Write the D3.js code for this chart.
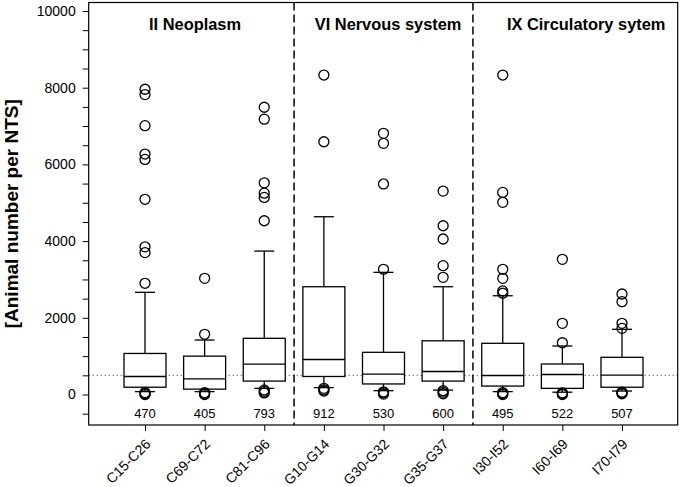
<!DOCTYPE html>
<html>
<head>
<meta charset="utf-8">
<script src="https://cdn.jsdelivr.net/npm/d3@7"></script>
<style>
  html, body { margin: 0; padding: 0; background: #fff; }
  svg { display: block; font-family: "Liberation Sans", Arial, sans-serif; }
</style>
</head>
<body>
<svg id="chart" width="681" height="487"></svg>
<script>
// ---------------- data ----------------
const categories = ["C15-C26","C69-C72","C81-C96","G10-G14","G30-G32","G35-G37","I30-I52","I60-I69","I70-I79"];
const groupNames = ["II Neoplasm","VI Nervous system","IX Circulatory sytem"];
const medians    = [470, 405, 793, 912, 530, 600, 495, 522, 507];
const q1         = [190, 140, 350, 470, 275, 350, 220, 160, 190];
const q3         = [1070, 1000, 1465, 2810, 1100, 1400, 1335, 795, 970];
const whiskerLow = [75, 75, 160, 180, 100, 115, 75, 60, 90];
const whiskerHigh= [2665, 1420, 3740, 4635, 3185, 2810, 2575, 1265, 1700];
const outliersHigh = [
  [7960, 7820, 7010, 6270, 6130, 5090, 3850, 3700, 2900],
  [3030, 1570],
  [7490, 7180, 5520, 5250, 5140, 4530],
  [8330, 6590],
  [6810, 6550, 5490, 3265],
  [5305, 4400, 4055, 3360, 3055],
  [8330, 5270, 5010, 3265, 3030, 2700, 2640],
  [3525, 1855, 1350],
  [2620, 2420, 1855, 1725]
];
const outliersLow = [
  [50, 20, 0],
  [50, 20, 0],
  [120, 80, 40],
  [160, 120, 90],
  [70, 40, 10],
  [100, 60, 20],
  [50, 20, 0],
  [40, 20, 0],
  [60, 40, 20]
];
const yMajorTicks = [0, 2000, 4000, 6000, 8000, 10000];
const yMinorTicks = d3.range(-500, 10001, 500);
const referenceLine = 500;

// ---------------- layout ----------------
const svg = d3.select("#chart");
const plot = {left: 88.7, right: 677.7, top: 2.5, bottom: 425};

const x = d3.scaleLinear().domain([0, categories.length - 1]).range([145, 622]);
const y = d3.scaleLinear().domain([0, 10000]).range([394.5, 11]);

const boxW = 42, capW = 20, r = 5;

// reference dotted line
svg.append("line")
  .attr("x1", plot.left).attr("x2", plot.right)
  .attr("y1", y(referenceLine)).attr("y2", y(referenceLine))
  .attr("stroke", "#333").attr("stroke-width", 1).attr("stroke-dasharray", "1,3");

// group separators (dashed)
[2.5, 5.5].forEach(v => {
  svg.append("line")
    .attr("x1", x(v)).attr("x2", x(v))
    .attr("y1", plot.top).attr("y2", plot.bottom)
    .attr("stroke", "#000").attr("stroke-width", 1.5).attr("stroke-dasharray", "8,4");
});

// boxes
const g = svg.append("g");
categories.forEach((c, i) => {
  const cx = x(i);
  const s = g.append("g").attr("stroke", "#000").attr("fill", "none").attr("stroke-width", 1.3);
  s.append("line").attr("x1", cx).attr("x2", cx).attr("y1", y(q3[i])).attr("y2", y(whiskerHigh[i]));
  s.append("line").attr("x1", cx).attr("x2", cx).attr("y1", y(q1[i])).attr("y2", y(whiskerLow[i]));
  s.append("line").attr("x1", cx - capW/2).attr("x2", cx + capW/2).attr("y1", y(whiskerHigh[i])).attr("y2", y(whiskerHigh[i]));
  s.append("line").attr("x1", cx - capW/2).attr("x2", cx + capW/2).attr("y1", y(whiskerLow[i])).attr("y2", y(whiskerLow[i]));
  s.append("rect").attr("x", cx - boxW/2).attr("width", boxW)
    .attr("y", y(q3[i])).attr("height", y(q1[i]) - y(q3[i]))
    .attr("fill", "#fff");
  s.append("line").attr("x1", cx - boxW/2).attr("x2", cx + boxW/2).attr("y1", y(medians[i])).attr("y2", y(medians[i]));
  outliersHigh[i].concat(outliersLow[i]).forEach(v => {
    s.append("circle").attr("cx", cx).attr("cy", y(v)).attr("r", r).attr("fill", "none");
  });
  svg.append("text").attr("x", cx).attr("y", 418)
    .attr("text-anchor", "middle").attr("font-size", 13).attr("fill", "#000")
    .text(medians[i]);
});

// frame
svg.append("rect").attr("x", plot.left).attr("y", plot.top)
  .attr("width", plot.right - plot.left).attr("height", plot.bottom - plot.top)
  .attr("fill", "none").attr("stroke", "#000").attr("stroke-width", 1.2);

// y axis
const yAxis = d3.axisLeft(y).tickValues(yMinorTicks)
  .tickFormat(d => yMajorTicks.includes(d) ? d : "")
  .tickSize(6).tickPadding(7);
const ya = svg.append("g").attr("transform", `translate(${plot.left},0)`).call(yAxis);
ya.select(".domain").remove();
ya.selectAll("text").attr("font-size", 14).attr("font-family", "Liberation Sans, Arial, sans-serif").attr("fill", "#000");

// x axis
const xAxis = d3.axisBottom(x).tickValues(d3.range(categories.length))
  .tickFormat(i => categories[i]).tickSize(6);
const xa = svg.append("g").attr("transform", `translate(0,${plot.bottom})`).call(xAxis);
xa.select(".domain").remove();
xa.selectAll("text")
  .attr("font-size", 14).attr("font-family", "Liberation Sans, Arial, sans-serif").attr("fill", "#000")
  .attr("text-anchor", "end").attr("dy", null)
  .attr("x", null).attr("y", null)
  .attr("transform", "translate(6,20) rotate(-45)");

// group titles
const titleOffsets = [-9.6, 4.6, 23.8];
groupNames.forEach((t, k) => {
  svg.append("text").attr("x", x(1 + 3*k) + titleOffsets[k]).attr("y", 30)
    .attr("text-anchor", "middle").attr("font-size", 16.4).attr("font-weight", "bold")
    .text(t);
});

// y label
svg.append("text")
  .attr("transform", `translate(18,${(plot.top + plot.bottom)/2}) rotate(-90)`)
  .attr("text-anchor", "middle").attr("font-size", 19).attr("font-weight", "bold")
  .text("[Animal number per NTS]");
</script>
</body>
</html>
